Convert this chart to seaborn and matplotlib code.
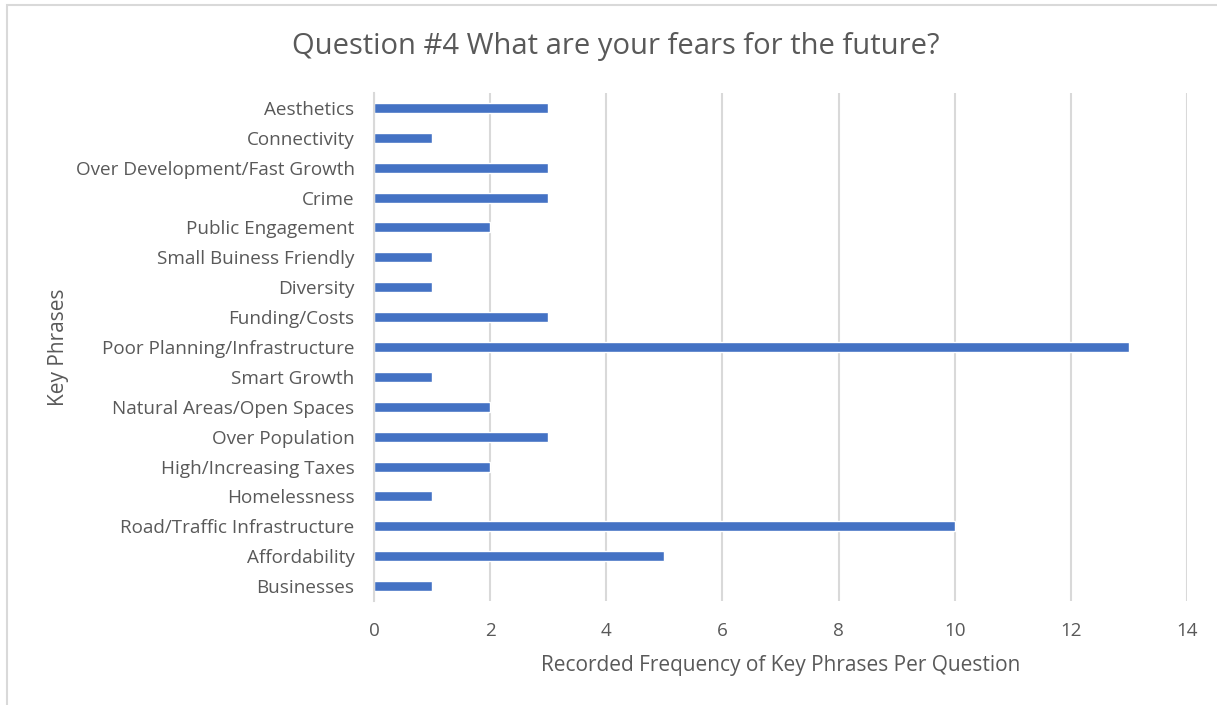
"""Horizontal bar chart of key phrases for survey question #4."""

import matplotlib.pyplot as plt
import matplotlib.patches as mpatches
import pandas as pd
import seaborn as sns

phrases = [
    'Aesthetics', 'Connectivity', 'Over Development/Fast Growth', 'Crime',
    'Public Engagement', 'Small Buiness Friendly', 'Diversity', 'Funding/Costs',
    'Poor Planning/Infrastructure', 'Smart Growth', 'Natural Areas/Open Spaces',
    'Over Population', 'High/Increasing Taxes', 'Homelessness',
    'Road/Traffic Infrastructure', 'Affordability', 'Businesses',
]
counts = [3, 1, 3, 3, 2, 1, 1, 3, 13, 1, 2, 3, 2, 1, 10, 5, 1]
x_ticks = [0, 2, 4, 6, 8, 10, 12, 14]

df = pd.DataFrame({'Phrase': phrases, 'Count': counts})

sns.set_style('white')
plt.rcParams['font.family'] = ['Open Sans', 'DejaVu Sans']

text_grey = '#595959'
grid_grey = '#d9d9d9'

fig = plt.figure(figsize=(12.17, 7.05), dpi=100)
ax = fig.add_axes([0.3073, 0.1475, 0.6681, 0.7206])

sns.barplot(data=df, x='Count', y='Phrase', orient='h', color='#4472C4',
            width=0.335, saturation=1, ax=ax)

ax.set_xlim(0, 14)
ax.set_ylim(len(phrases) - 0.5, -0.5)
ax.set_xticks(x_ticks)
ax.xaxis.grid(True, color=grid_grey, linewidth=1.5)
ax.set_axisbelow(True)
for side in ['top', 'right', 'bottom']:
    ax.spines[side].set_visible(False)
ax.spines['left'].set_color(grid_grey)
ax.spines['left'].set_linewidth(1.5)
ax.tick_params(axis='both', length=0, labelsize=13.6, colors=text_grey)
ax.tick_params(axis='y', pad=14)
ax.tick_params(axis='x', pad=15)

ax.set_xlabel('Recorded Frequency of Key Phrases Per Question', fontsize=15,
              color=text_grey, labelpad=11)
ax.set_ylabel('Key Phrases', fontsize=15, color=text_grey)
ax.yaxis.set_label_coords(-0.375, 0.5)

fig.suptitle('Question #4 What are your fears for the future?', fontsize=21,
             color=text_grey, y=0.955, x=0.506)

# light frame round the chart like the original export
frame = mpatches.Rectangle((7 / 1217, -0.1), 1.2, 1 - 5 / 705 + 0.1,
                           transform=fig.transFigure, fill=False,
                           edgecolor=grid_grey, linewidth=1.5)
fig.patches.append(frame)

fig.savefig('out.png', dpi=100)
